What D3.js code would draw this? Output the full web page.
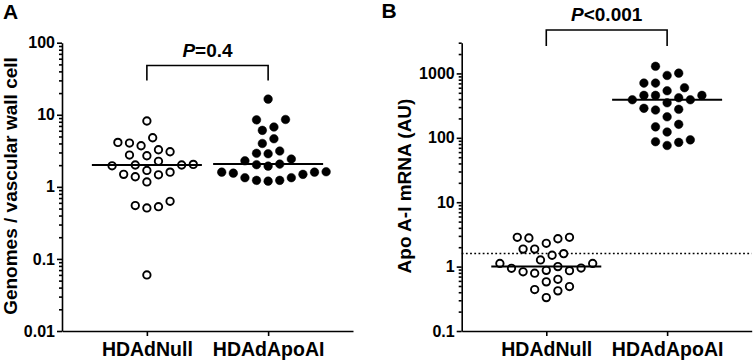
<!DOCTYPE html>
<html>
<head>
<meta charset="utf-8">
<script src="https://cdn.jsdelivr.net/npm/d3@7"></script>
<style>
  body { margin: 0; background: #fff; }
  svg { display: block; font-family: "Liberation Sans", Arial, sans-serif; font-weight: bold; }
</style>
</head>
<body>
<div id="graph"></div>
<script>
// groups on the x axis
const groups = ['HDAdNull', 'HDAdApoAI'];

// panel A: genomes per vascular wall cell
const genomesNull = [8.2, 4.14, 3.72, 4.05, 4.8, 3.07, 3.27, 2.70, 2.76, 2.26, 2.01, 1.96, 2.05,
                     1.60, 1.47, 1.69, 1.38, 1.49, 1.17, 0.63, 0.53, 0.51, 0.55, 0.060, 2.01];
const genomesApoAI = [16.5, 8.6, 8.5, 6.76, 6.08, 4.65, 4.0, 3.14, 2.88, 2.92, 2.30, 2.43, 2.03,
                      1.94, 2.07, 1.60, 1.55, 1.34, 1.23, 1.20, 1.23, 1.34, 1.49, 1.60, 1.62];
const genomesTicks = [0.01, 0.1, 1, 10, 100];
const genomesP = '=0.4';

// panel B: apo A-I mRNA
const mrnaNull = [2.85, 2.78, 2.71, 2.85, 2.30, 1.87, 1.87, 1.59, 1.50, 1.27, 1.12, 1.12, 1.0,
                  0.95, 0.94, 0.875, 0.83, 0.865, 0.79, 0.635, 0.58, 0.44, 0.49, 0.42, 0.33];
const mrnaApoAI = [1290, 1010, 930, 708, 708, 600, 538, 456, 456, 456, 419, 390, 390, 350,
                   277, 287, 270, 212, 148, 162, 123, 87, 76, 85, 93];
const mrnaTicks = [0.1, 1, 10, 100, 1000];
const mrnaP = '<0.001';
const mrnaLimit = 1.6;

var width = 755, height = 362;

var svg = d3.select('#graph')
            .append('svg')
            .attr('width', width)
            .attr('height', height);

svg.append('rect').attr('width', width).attr('height', height).attr('fill', '#fff');

// place points side by side in rows, lowest value first
function swarm(values, y, cx) {
  var step = 5.8, minDist = 11.3, flip = false;
  var placed = [];
  var order = d3.range(values.length).sort((a, b) => values[a] - values[b]);
  order.forEach(i => {
    var py = y(values[i]);
    for (var n = 0; ; n++) {
      var cands = n === 0 ? [0] : (flip ? [-n, n] : [n, -n]);
      var hit = cands.find(c => placed.every(p => Math.hypot(p.x - (cx + c * step), p.y - py) >= minDist));
      if (hit !== undefined) {
        placed.push({x: cx + hit * step, y: py});
        if (hit !== 0) flip = !flip;
        break;
      }
    }
  });
  return placed;
}

function panel(o) {
  var g = svg.append('g');

  var x = d3.scalePoint().domain(groups).range([o.left, o.right]).padding(0.7);
  var y = d3.scaleLog().domain(o.domain).range([331, 42.7]);

  // minor ticks
  var minor = [];
  for (var d = o.domain[0]; d < o.domain[1]; d *= 10) {
    for (var m = 2; m <= 9; m++) if (d * m <= o.domain[1] * 1.0001) minor.push(d * m);
  }
  g.append('g')
   .attr('transform', 'translate(' + o.left + ',0)')
   .call(d3.axisLeft(y).tickValues(minor).tickSize(3).tickFormat(''))
   .call(s => s.select('.domain').remove());

  var ya = g.append('g')
   .attr('transform', 'translate(' + o.left + ',0)')
   .call(d3.axisLeft(y).tickValues(o.ticks).tickSize(5).tickSizeOuter(0).tickPadding(2).tickFormat(d3.format('~g')));
  ya.selectAll('text').attr('font-size', 16).attr('fill', '#000');

  var xa = g.append('g')
   .attr('transform', 'translate(0,331)')
   .call(d3.axisBottom(x).tickSize(5).tickSizeOuter(0).tickPadding(6));
  xa.selectAll('text').attr('font-size', 19.5).attr('fill', '#000');

  g.selectAll('.domain, .tick line').attr('stroke', '#000').attr('stroke-width', 1.6);

  // axis title
  g.append('text')
   .attr('transform', 'translate(' + o.titleX + ',186) rotate(-90)')
   .attr('text-anchor', 'middle')
   .attr('font-size', 19)
   .text(o.title);

  // panel letter
  g.append('text')
   .attr('x', o.letterX).attr('y', o.letterY)
   .attr('font-size', 21)
   .text(o.letter);

  if (o.limit) {
    g.append('line')
     .attr('x1', o.left).attr('x2', o.right)
     .attr('y1', y(o.limit)).attr('y2', y(o.limit))
     .attr('stroke', '#000').attr('stroke-width', 1.6)
     .attr('stroke-dasharray', '1.8,2.4');
  }

  [o.nullVals, o.apoVals].forEach((vals, i) => {
    var cx = x(groups[i]);
    var pts = swarm(vals, y, cx);
    g.selectAll(null)
     .data(pts)
     .enter()
     .append('circle')
     .attr('cx', d => d.x)
     .attr('cy', d => d.y)
     .attr('r', i === 0 ? 3.7 : 4.3)
     .attr('fill', i === 0 ? '#fff' : '#000')
     .attr('stroke', '#000')
     .attr('stroke-width', i === 0 ? 1.9 : 0.5);

    var med = d3.median(vals);
    g.append('line')
     .attr('x1', cx - 55).attr('x2', cx + 55)
     .attr('y1', y(med)).attr('y2', y(med))
     .attr('stroke', '#000').attr('stroke-width', 2);
  });

  // significance bracket
  var x0 = x(groups[0]), x1 = x(groups[1]);
  g.append('path')
   .attr('d', 'M' + x0 + ',' + o.legY + 'V' + o.barY + 'H' + x1 + 'V' + o.legY)
   .attr('fill', 'none').attr('stroke', '#000').attr('stroke-width', 1.6);

  var t = g.append('text')
   .attr('x', (x0 + x1) / 2).attr('y', o.barY - 9)
   .attr('text-anchor', 'middle')
   .attr('font-size', 19);
  t.append('tspan').attr('font-style', 'italic').text('P');
  t.append('tspan').text(o.p);
}

panel({left: 62, right: 353, domain: [0.01, 100], ticks: genomesTicks,
       nullVals: genomesNull, apoVals: genomesApoAI, p: genomesP,
       title: 'Genomes / vascular wall cell', titleX: 17,
       letter: 'A', letterX: 3, letterY: 19, barY: 65.5, legY: 80.5});

panel({left: 461.7, right: 751.7, domain: [0.1, 3000], ticks: mrnaTicks,
       nullVals: mrnaNull, apoVals: mrnaApoAI, p: mrnaP, limit: mrnaLimit,
       title: 'Apo A-I mRNA (AU)', titleX: 410.5,
       letter: 'B', letterX: 381.5, letterY: 18, barY: 30, legY: 46});
</script>
</body>
</html>
